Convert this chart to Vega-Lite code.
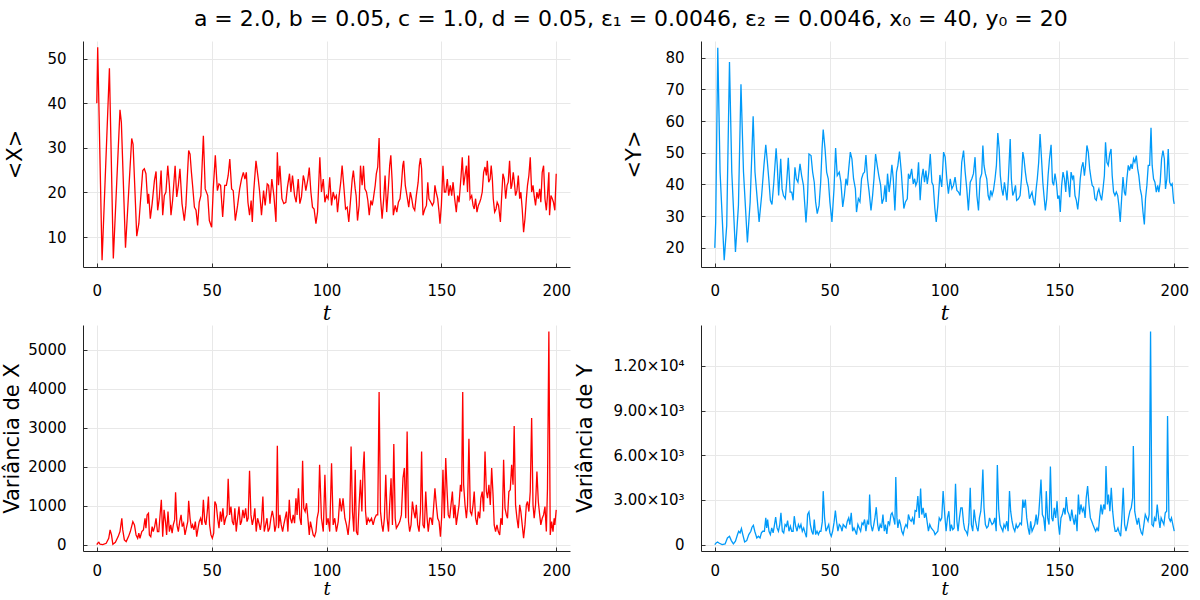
{
  "$schema": "https://vega.github.io/schema/vega-lite/v6.json",
  "padding": {"left": 0, "top": 8, "right": 0, "bottom": 0},
  "background": "white",
  "title": {"text": "a = 2.0, b = 0.05, c = 1.0, d = 0.05, ε₁ = 0.0046, ε₂ = 0.0046, x₀ = 40, y₀ = 20", "font": "DejaVu Sans", "fontSize": 22, "fontWeight": "normal", "color": "#000", "anchor": "middle", "offset": 10, "dx": 36},
  "datasets": {
    "X": [
      {"t":0,"v":40},{"t":0.4,"v":52.5},{"t":2.3,"v":4.8},{"t":5.5,"v":47.8},{"t":7.2,"v":5.2},{"t":10.1,"v":38.5},{"t":10.7,"v":35.7},{"t":12.5,"v":7.6},{"t":15.2,"v":32.1},{"t":15.8,"v":30.8},{"t":17.4,"v":10.2},{"t":18.3,"v":13.0},{"t":20,"v":24.9},{"t":20.7,"v":25.3},{"t":21.4,"v":24.2},{"t":22.2,"v":17.5},{"t":22.6,"v":19.7},{"t":23.3,"v":14.1},{"t":24.1,"v":17.5},{"t":25.1,"v":22.7},{"t":25.8,"v":24.7},{"t":26.5,"v":16.0},{"t":27.2,"v":18.6},{"t":28,"v":24.9},{"t":28.7,"v":14.9},{"t":29.4,"v":19.3},{"t":30.1,"v":20.1},{"t":30.9,"v":26.0},{"t":31.6,"v":21.6},{"t":32.3,"v":14.9},{"t":33,"v":18.2},{"t":34.1,"v":26.0},{"t":34.8,"v":19},{"t":35.5,"v":21.6},{"t":36.2,"v":25.3},{"t":37.1,"v":17.5},{"t":38.1,"v":13.7},{"t":38.8,"v":17.1},{"t":40,"v":29.4},{"t":40.6,"v":28.6},{"t":41.2,"v":24.5},{"t":41.7,"v":21.6},{"t":42.5,"v":16.7},{"t":43.2,"v":16.0},{"t":43.9,"v":12.6},{"t":44.6,"v":17.8},{"t":45.3,"v":19.3},{"t":46.4,"v":32.7},{"t":47.2,"v":20.8},{"t":48.3,"v":19.3},{"t":49,"v":13.7},{"t":50,"v":12.2},{"t":50.7,"v":20.8},{"t":51.6,"v":28.3},{"t":52.5,"v":20.4},{"t":53.2,"v":21.9},{"t":53.9,"v":21.6},{"t":54.8,"v":14.5},{"t":55.7,"v":21.6},{"t":56.4,"v":21.6},{"t":57.2,"v":23.8},{"t":57.9,"v":27.5},{"t":58.7,"v":20.8},{"t":59.4,"v":20.4},{"t":60.3,"v":13.7},{"t":61.3,"v":17.1},{"t":62.2,"v":20.8},{"t":63,"v":23},{"t":63.8,"v":24.5},{"t":64.5,"v":23},{"t":65.1,"v":24.5},{"t":65.8,"v":17.8},{"t":66.5,"v":14.9},{"t":67.2,"v":18.2},{"t":67.7,"v":13.4},{"t":68.3,"v":20.1},{"t":69.3,"v":27.1},{"t":70.3,"v":23},{"t":70.9,"v":20.1},{"t":71.7,"v":14.9},{"t":72.6,"v":20.4},{"t":73.3,"v":17.1},{"t":74.2,"v":21.9},{"t":74.8,"v":21.6},{"t":75.4,"v":17.5},{"t":76.2,"v":23},{"t":77.1,"v":19.3},{"t":78,"v":13.4},{"t":78.6,"v":29},{"t":79.1,"v":21.6},{"t":79.7,"v":26},{"t":80.6,"v":18.6},{"t":81.4,"v":17.5},{"t":82.3,"v":17.8},{"t":83,"v":21.2},{"t":83.9,"v":24.2},{"t":84.5,"v":20.1},{"t":85.2,"v":23.8},{"t":86.1,"v":19.3},{"t":86.8,"v":17.8},{"t":87.7,"v":23},{"t":88.4,"v":17.5},{"t":89.1,"v":19},{"t":89.9,"v":23.8},{"t":90.4,"v":22.7},{"t":91,"v":20.4},{"t":91.9,"v":23},{"t":92.5,"v":25.6},{"t":93.2,"v":20.1},{"t":93.9,"v":16.7},{"t":94.6,"v":16.3},{"t":95.4,"v":13},{"t":96.1,"v":15.6},
      {"t":97.1,"v":27.9},{"t":97.8,"v":20.1},{"t":98.6,"v":23.0},{"t":99.3,"v":17.8},{"t":100,"v":19.3},{"t":100.7,"v":18.6},{"t":101.4,"v":23.4},{"t":102.2,"v":17.1},{"t":102.9,"v":20.1},{"t":103.6,"v":18.6},{"t":104.3,"v":19.3},{"t":104.8,"v":15.6},{"t":105.5,"v":19.3},{"t":106.2,"v":22.3},{"t":106.8,"v":26.0},{"t":107.5,"v":21.6},{"t":108.3,"v":16.3},{"t":109.0,"v":16.7},{"t":109.7,"v":13.4},{"t":110.4,"v":17.8},{"t":111.2,"v":23.0},{"t":111.7,"v":24.9},{"t":112.5,"v":20.8},{"t":112.9,"v":19.3},{"t":113.5,"v":13.7},{"t":114.2,"v":17.1},{"t":114.8,"v":26.0},{"t":115.5,"v":21.6},{"t":116.1,"v":26.0},{"t":116.7,"v":20.8},{"t":117.4,"v":20.1},{"t":118.0,"v":18.2},{"t":118.6,"v":14.9},{"t":119.3,"v":18.2},{"t":119.9,"v":17.1},{"t":120.4,"v":18.6},{"t":121.2,"v":21.6},{"t":121.7,"v":24.2},{"t":122.3,"v":25.7},{"t":122.9,"v":32.2},{"t":123.5,"v":19.0},{"t":124.2,"v":14.1},{"t":124.9,"v":18.6},{"t":125.5,"v":23.8},{"t":126.2,"v":15.6},{"t":127.0,"v":21.6},{"t":127.5,"v":26.0},{"t":128.0,"v":28.3},{"t":128.6,"v":22.3},{"t":129.1,"v":14.9},{"t":129.9,"v":17.1},{"t":130.6,"v":15.6},{"t":131.3,"v":17.8},{"t":132.0,"v":18.6},{"t":132.6,"v":21.6},{"t":133.2,"v":26.0},{"t":133.6,"v":27.1},{"t":134.3,"v":21.6},{"t":135.1,"v":19.0},{"t":135.8,"v":16.7},{"t":136.5,"v":20.1},{"t":137.1,"v":18.6},{"t":137.7,"v":16.7},{"t":138.4,"v":16.0},{"t":139.1,"v":19.3},{"t":139.9,"v":22.3},{"t":140.4,"v":26.0},{"t":140.9,"v":27.7},{"t":141.4,"v":25.3},{"t":142.0,"v":14.9},{"t":142.8,"v":16.3},{"t":143.5,"v":17.1},{"t":144.1,"v":22.3},{"t":144.6,"v":18.6},{"t":145.4,"v":17.8},{"t":146.1,"v":17.1},{"t":146.7,"v":17.8},{"t":147.2,"v":21.6},{"t":147.7,"v":20.1},{"t":148.4,"v":18.6},{"t":149.0,"v":15.6},{"t":149.4,"v":13.0},{"t":150.0,"v":17.1},{"t":150.7,"v":26.0},{"t":151.3,"v":20.1},{"t":151.9,"v":20.1},{"t":152.6,"v":23.0},{"t":153.2,"v":19.3},{"t":153.9,"v":21.6},{"t":154.5,"v":19.3},{"t":155.1,"v":22.3},{"t":155.8,"v":18.6},{"t":156.5,"v":15.6},{"t":157.1,"v":19.3},{"t":157.7,"v":17.8},{"t":158.6,"v":23.8},{"t":159.1,"v":27.9},{"t":159.7,"v":21.6},{"t":160.3,"v":23.8},{"t":160.9,"v":26.0},{"t":161.4,"v":20.1},{"t":161.9,"v":28.3},{"t":162.5,"v":18.6},{"t":163.2,"v":19.3},{"t":163.8,"v":17.1},{"t":164.3,"v":16.3},{"t":164.9,"v":18.6},{"t":165.5,"v":15.6},{"t":166.1,"v":17.1},{"t":166.7,"v":17.8},{"t":167.2,"v":18.6},{"t":167.8,"v":20.1},{"t":168.4,"v":24.5},{"t":169.0,"v":25.7},{"t":169.6,"v":23.8},{"t":170.0,"v":27.1},{"t":170.6,"v":22.3},{"t":171.2,"v":23.0},{"t":171.7,"v":26.0},{"t":172.2,"v":23.0},{"t":172.6,"v":18.6},{"t":173.2,"v":15.6},{"t":173.8,"v":16.3},{"t":174.3,"v":17.8},{"t":174.9,"v":17.1},{"t":175.7,"v":13.4},{"t":176.2,"v":18.6},{"t":176.8,"v":24.2},{"t":177.4,"v":23.0},{"t":178.0,"v":18.6},{"t":178.6,"v":21.6},{"t":179.1,"v":22.3},{"t":179.7,"v":27.1},{"t":180.3,"v":20.8},{"t":180.7,"v":21.6},{"t":181.3,"v":24.5},{"t":181.9,"v":21.6},{"t":182.3,"v":19.3},{"t":182.9,"v":20.4},{"t":183.5,"v":23.8},{"t":184.1,"v":18.6},{"t":184.6,"v":20.1},{"t":185.2,"v":16.3},{"t":185.8,"v":11.1},{"t":186.4,"v":14.1},{"t":187.0,"v":18.6},{"t":187.5,"v":21.6},{"t":188.1,"v":23.8},{"t":188.7,"v":27.9},{"t":189.3,"v":20.1},{"t":189.9,"v":21.6},{"t":190.4,"v":19.3},{"t":191.0,"v":17.1},{"t":191.6,"v":20.1},{"t":192.2,"v":18.6},{"t":192.8,"v":20.8},{"t":193.3,"v":17.8},{"t":193.9,"v":24.5},{"t":194.5,"v":26.0},{"t":195.1,"v":18.6},{"t":195.7,"v":16.0},{"t":196.2,"v":19.3},{"t":196.8,"v":24.5},{"t":197.1,"v":14.9},{"t":197.7,"v":19.3},{"t":198.3,"v":18.6},{"t":198.8,"v":17.8},{"t":199.4,"v":16.0},{"t":200.0,"v":24.2}
    ],
    "Y": [
      {"t":0,"v":20},{"t":0.4,"v":28.2},{"t":1.3,"v":83.1},{"t":2.3,"v":43.9},{"t":4.1,"v":16.1},{"t":5.2,"v":27.1},{"t":6.4,"v":78.6},{"t":7.4,"v":43.9},{"t":9,"v":18.7},{"t":10.3,"v":33.4},{"t":11.4,"v":71.6},{"t":12.5,"v":43.9},{"t":14.2,"v":21.7},{"t":15.4,"v":34.5},{"t":16.7,"v":61.5},{"t":17.5,"v":43.9},{"t":19.3,"v":28.2},{"t":20.4,"v":36.5},{"t":21.4,"v":46},{"t":22.2,"v":52.5},{"t":22.9,"v":47},{"t":23.5,"v":41.8},{"t":24.2,"v":35},{"t":24.9,"v":33.7},{"t":25.7,"v":40.7},{"t":26.7,"v":51.4},{"t":27.2,"v":46},{"t":27.8,"v":36.5},{"t":28.7,"v":48.1},{"t":29.3,"v":38.6},{"t":29.9,"v":36.5},{"t":30.7,"v":35.5},{"t":31.3,"v":40.7},{"t":32,"v":48.4},{"t":32.8,"v":37.6},{"t":33.5,"v":37.6},{"t":34.1,"v":35},{"t":34.9,"v":45.4},{"t":35.5,"v":41.8},{"t":36.2,"v":40.7},{"t":37.1,"v":46.5},{"t":37.8,"v":42.8},{"t":38.6,"v":39.7},{"t":39.1,"v":34.5},{"t":39.7,"v":28},{"t":40.3,"v":34.5},{"t":41,"v":49.6},{"t":41.9,"v":49.1},{"t":42.6,"v":43.9},{"t":43.3,"v":40.7},{"t":43.9,"v":34.5},{"t":44.6,"v":30.8},{"t":45.4,"v":33.4},{"t":46.1,"v":40.7},{"t":46.7,"v":51.2},{"t":47.2,"v":57.3},{"t":48,"v":51.2},{"t":48.7,"v":43.9},{"t":49.4,"v":41.8},{"t":50.1,"v":34.5},{"t":51,"v":28.2},{"t":51.9,"v":38.6},{"t":52.6,"v":51.5},{"t":53.3,"v":42.8},{"t":54.2,"v":43.9},{"t":54.9,"v":40.7},{"t":55.7,"v":32.9},{"t":56.4,"v":36.5},{"t":57.1,"v":41.8},{"t":57.7,"v":39.7},{"t":58.3,"v":44.9},{"t":59,"v":50.2},{"t":59.7,"v":48.1},{"t":60.4,"v":41.8},{"t":61.2,"v":38.6},{"t":61.7,"v":31.3},{"t":62.5,"v":35.5},{"t":63.2,"v":34.5},{"t":63.9,"v":41.8},{"t":64.6,"v":43.4},{"t":65.2,"v":43.9},{"t":65.8,"v":49.3},{"t":66.5,"v":41.8},{"t":67.2,"v":37.6},{"t":68,"v":31.8},{"t":68.7,"v":36.5},{"t":69.3,"v":41.8},{"t":70,"v":49.6},{"t":70.7,"v":46},{"t":71.4,"v":42.8},{"t":72.2,"v":39.7},{"t":72.8,"v":33.9},{"t":73.5,"v":35.5},{"t":74.1,"v":39.7},{"t":74.6,"v":34.5},{"t":75.2,"v":43.4},{"t":75.9,"v":37.6},{"t":76.5,"v":41.3},{"t":77.1,"v":46.2},{"t":77.7,"v":41.8},{"t":78.4,"v":31.8},{"t":79.1,"v":43.9},{"t":79.7,"v":46},{"t":80.4,"v":50.4},{"t":81.2,"v":43.9},{"t":81.7,"v":38.6},{"t":82.3,"v":32.4},{"t":83,"v":34.5},{"t":83.8,"v":35.5},{"t":84.3,"v":43.4},{"t":84.9,"v":41.8},{"t":85.7,"v":44.9},{"t":86.4,"v":40.2},{"t":87,"v":41.8},{"t":87.5,"v":39.7},{"t":88.1,"v":40.9},{"t":88.7,"v":47},{"t":89.4,"v":35},{"t":90,"v":41.8},{"t":90.7,"v":44.9},{"t":91.3,"v":40.7},{"t":91.9,"v":44.4},{"t":92.5,"v":40.2},{"t":93.2,"v":43.9},{"t":93.8,"v":49.6},{"t":94.5,"v":40.7},{"t":95.1,"v":39.7},{"t":95.8,"v":32.4},{"t":96.4,"v":28.2},{"t":97.1,"v":33.4},{"t":98,"v":43},{"t":98.8,"v":39.2},
      {"t":99.6,"v":50.2},{"t":100.3,"v":48.6},{"t":101.0,"v":41.8},{"t":101.7,"v":37.1},{"t":102.5,"v":41.8},{"t":103.2,"v":38.6},{"t":103.9,"v":39.7},{"t":104.6,"v":42.3},{"t":105.4,"v":38.1},{"t":106.1,"v":37.6},{"t":106.8,"v":36.5},{"t":107.5,"v":47.0},{"t":108.3,"v":50.7},{"t":109.0,"v":43.9},{"t":109.7,"v":38.6},{"t":110.4,"v":31.8},{"t":111.2,"v":40.7},{"t":111.9,"v":41.8},{"t":112.6,"v":43.4},{"t":113.3,"v":48.6},{"t":114.1,"v":36.5},{"t":114.8,"v":31.8},{"t":115.5,"v":41.8},{"t":116.2,"v":43.4},{"t":116.7,"v":52.3},{"t":117.2,"v":46.0},{"t":117.8,"v":43.4},{"t":118.4,"v":41.8},{"t":119.0,"v":36.5},{"t":119.6,"v":35.0},{"t":120.1,"v":38.1},{"t":120.7,"v":36.5},{"t":121.3,"v":38.1},{"t":122.0,"v":41.8},{"t":122.6,"v":46.0},{"t":123.2,"v":56.2},{"t":123.8,"v":51.2},{"t":124.3,"v":42.8},{"t":124.9,"v":38.6},{"t":125.5,"v":36.5},{"t":126.1,"v":40.7},{"t":126.7,"v":37.6},{"t":127.2,"v":35.0},{"t":127.8,"v":41.8},{"t":128.6,"v":54.3},{"t":129.1,"v":41.8},{"t":129.7,"v":36.5},{"t":130.3,"v":37.6},{"t":130.9,"v":39.7},{"t":131.4,"v":35.0},{"t":132.2,"v":35.5},{"t":132.9,"v":36.5},{"t":133.5,"v":41.8},{"t":134.1,"v":50.2},{"t":134.6,"v":48.1},{"t":135.2,"v":43.9},{"t":135.8,"v":40.7},{"t":136.4,"v":39.2},{"t":137.0,"v":35.5},{"t":137.5,"v":36.5},{"t":138.1,"v":37.6},{"t":138.7,"v":35.0},{"t":139.3,"v":33.4},{"t":139.9,"v":38.6},{"t":140.4,"v":41.8},{"t":141.0,"v":47.0},{"t":141.6,"v":55.9},{"t":142.2,"v":48.6},{"t":142.8,"v":40.7},{"t":143.3,"v":36.5},{"t":143.9,"v":31.8},{"t":144.5,"v":35.5},{"t":145.1,"v":42.8},{"t":145.7,"v":48.1},{"t":146.4,"v":52.5},{"t":147.0,"v":40.7},{"t":147.5,"v":39.7},{"t":148.1,"v":43.4},{"t":148.7,"v":40.7},{"t":149.3,"v":35.5},{"t":149.9,"v":36.5},{"t":150.4,"v":31.3},{"t":151.0,"v":39.7},{"t":151.6,"v":43.9},{"t":152.2,"v":41.8},{"t":152.8,"v":37.6},{"t":153.3,"v":44.4},{"t":153.9,"v":40.7},{"t":154.5,"v":36.0},{"t":155.1,"v":43.9},{"t":155.7,"v":41.8},{"t":156.2,"v":42.8},{"t":156.8,"v":36.5},{"t":157.4,"v":35.0},{"t":158.0,"v":32.1},{"t":158.6,"v":36.5},{"t":159.1,"v":41.8},{"t":159.7,"v":45.4},{"t":160.3,"v":47.0},{"t":160.9,"v":42.8},{"t":161.4,"v":46.0},{"t":162.0,"v":52.3},{"t":162.6,"v":50.2},{"t":163.2,"v":44.9},{"t":163.8,"v":41.8},{"t":164.3,"v":39.7},{"t":164.9,"v":39.2},{"t":165.5,"v":35.5},{"t":166.1,"v":35.0},{"t":166.7,"v":37.6},{"t":167.2,"v":38.6},{"t":167.8,"v":36.5},{"t":168.4,"v":35.0},{"t":169.0,"v":38.6},{"t":169.6,"v":42.8},{"t":170.1,"v":53.3},{"t":170.7,"v":47.0},{"t":171.3,"v":46.0},{"t":171.9,"v":49.6},{"t":172.5,"v":51.2},{"t":173.0,"v":42.8},{"t":173.6,"v":37.6},{"t":174.2,"v":36.5},{"t":174.8,"v":37.6},{"t":175.4,"v":36.5},{"t":175.9,"v":33.4},{"t":176.5,"v":28.2},{"t":177.1,"v":35.5},{"t":177.7,"v":42.3},{"t":178.3,"v":37.6},{"t":178.8,"v":36.5},{"t":179.4,"v":41.8},{"t":180.0,"v":46.0},{"t":180.6,"v":44.4},{"t":181.2,"v":46.5},{"t":181.7,"v":44.9},{"t":182.3,"v":48.1},{"t":182.9,"v":47.0},{"t":183.5,"v":49.1},{"t":184.1,"v":44.9},{"t":184.6,"v":42.8},{"t":185.2,"v":38.6},{"t":185.8,"v":36.5},{"t":186.4,"v":31.3},{"t":187.0,"v":27.4},{"t":187.5,"v":35.5},{"t":188.1,"v":39.7},{"t":188.7,"v":46.0},{"t":189.3,"v":46.0},{"t":189.9,"v":57.9},{"t":190.4,"v":46.0},{"t":191.0,"v":41.8},{"t":191.6,"v":40.7},{"t":192.2,"v":37.6},{"t":192.8,"v":39.7},{"t":193.3,"v":37.6},{"t":193.9,"v":40.7},{"t":194.5,"v":48.1},{"t":195.1,"v":50.7},{"t":195.7,"v":48.1},{"t":196.2,"v":38.6},{"t":196.8,"v":41.8},{"t":197.4,"v":51.2},{"t":198.0,"v":40.7},{"t":198.6,"v":39.7},{"t":199.1,"v":40.2},{"t":199.7,"v":35.0},{"t":200.0,"v":33.9}
    ],
    "VX": [
      {"t":0,"v":0},{"t":0.4,"v":34},{"t":0.9,"v":60},{"t":1.4,"v":9},{"t":2.6,"v":0},{"t":4.1,"v":34},{"t":5.2,"v":163},{"t":5.8,"v":377},{"t":6.4,"v":248},{"t":7,"v":9},{"t":8.1,"v":60},{"t":9.3,"v":205},{"t":10.1,"v":334},{"t":10.9,"v":676},{"t":11.3,"v":377},{"t":12,"v":120},{"t":12.8,"v":77},{"t":13.8,"v":205},{"t":14.6,"v":334},{"t":15.7,"v":591},{"t":16.4,"v":505},{"t":17.1,"v":248},{"t":17.8,"v":163},{"t":18.3,"v":291},{"t":18.8,"v":163},{"t":19.6,"v":334},{"t":20.3,"v":377},{"t":21,"v":676},{"t":21.4,"v":420},{"t":21.9,"v":762},{"t":22.5,"v":805},{"t":22.9,"v":248},{"t":23.5,"v":205},{"t":24.1,"v":462},{"t":24.6,"v":334},{"t":25.2,"v":462},{"t":25.8,"v":676},{"t":26.4,"v":334},{"t":27,"v":334},{"t":27.5,"v":719},{"t":28.1,"v":1147},{"t":28.7,"v":205},{"t":29.3,"v":890},{"t":29.9,"v":591},{"t":30.4,"v":248},{"t":31,"v":848},{"t":31.6,"v":334},{"t":32.2,"v":505},{"t":32.8,"v":291},{"t":33.3,"v":505},{"t":33.9,"v":634},{"t":34.3,"v":1344},{"t":34.9,"v":505},{"t":35.5,"v":334},{"t":36.1,"v":591},{"t":36.7,"v":762},{"t":37.2,"v":462},{"t":37.8,"v":548},{"t":38.4,"v":248},{"t":39,"v":420},{"t":39.6,"v":591},{"t":40,"v":1122},{"t":40.6,"v":676},{"t":41.2,"v":420},{"t":41.7,"v":505},{"t":42.3,"v":377},{"t":42.9,"v":591},{"t":43.5,"v":205},{"t":44.1,"v":420},{"t":44.6,"v":591},{"t":45.2,"v":676},{"t":45.8,"v":505},{"t":46.4,"v":1147},{"t":47,"v":591},{"t":47.5,"v":505},{"t":48.1,"v":848},{"t":48.6,"v":1233},{"t":49.1,"v":505},{"t":49.7,"v":248},{"t":50.3,"v":163},{"t":50.9,"v":291},{"t":51.4,"v":1104},{"t":52,"v":1019},{"t":52.6,"v":676},{"t":53.2,"v":420},{"t":53.8,"v":848},{"t":54.3,"v":591},{"t":54.9,"v":933},{"t":55.5,"v":505},{"t":56.1,"v":676},{"t":56.7,"v":762},{"t":57.2,"v":1687},{"t":57.8,"v":762},{"t":58.4,"v":976},{"t":59,"v":591},{"t":59.6,"v":505},{"t":60.1,"v":933},{"t":60.7,"v":334},{"t":61.3,"v":676},{"t":61.9,"v":976},{"t":62.5,"v":505},{"t":63,"v":591},{"t":63.6,"v":890},{"t":64.2,"v":676},{"t":64.8,"v":933},{"t":65.4,"v":591},{"t":65.9,"v":676},{"t":66.5,"v":1892},{"t":67.1,"v":762},{"t":67.7,"v":505},{"t":68.3,"v":676},{"t":68.8,"v":933},{"t":69.4,"v":334},{"t":70,"v":676},{"t":70.6,"v":548},{"t":71.2,"v":377},{"t":71.7,"v":591},{"t":72.3,"v":1233},{"t":72.9,"v":334},{"t":73.5,"v":505},{"t":74.1,"v":676},{"t":74.6,"v":334},{"t":75.2,"v":420},{"t":75.8,"v":676},{"t":76.4,"v":865},{"t":77,"v":676},{"t":77.5,"v":334},{"t":78.1,"v":505},{"t":78.6,"v":2534},{"t":79.1,"v":420},{"t":79.7,"v":762},{"t":80.3,"v":505},{"t":80.9,"v":334},{"t":81.4,"v":505},{"t":82,"v":676},{"t":82.6,"v":848},{"t":83.2,"v":334},{"t":83.8,"v":1147},{"t":84.3,"v":676},{"t":84.9,"v":548},{"t":85.5,"v":762},{"t":86.1,"v":548},{"t":86.7,"v":1190},{"t":87.2,"v":762},{"t":87.8,"v":1447},{"t":88.4,"v":676},{"t":89,"v":505},{"t":89.6,"v":2149},{"t":90.1,"v":933},{"t":90.7,"v":848},{"t":91.3,"v":1062},{"t":91.9,"v":676},{"t":92.5,"v":248},{"t":93,"v":591},{"t":93.6,"v":420},{"t":94.2,"v":248},{"t":94.8,"v":205},{"t":95.4,"v":334},{"t":95.9,"v":676},{"t":96.5,"v":848},{"t":97.0,"v":2046},
      {"t":97.8,"v":676},{"t":98.6,"v":334},{"t":99.3,"v":1789},{"t":100.0,"v":505},{"t":100.7,"v":676},{"t":101.4,"v":334},{"t":102.2,"v":2089},{"t":102.9,"v":505},{"t":103.6,"v":676},{"t":104.3,"v":334},{"t":105.1,"v":591},{"t":105.8,"v":1190},{"t":106.5,"v":848},{"t":107.2,"v":1190},{"t":108.0,"v":676},{"t":108.7,"v":505},{"t":109.4,"v":248},{"t":110.1,"v":676},{"t":110.7,"v":2517},{"t":111.3,"v":848},{"t":111.9,"v":334},{"t":112.5,"v":1918},{"t":113.0,"v":334},{"t":113.6,"v":248},{"t":114.2,"v":1019},{"t":114.8,"v":1661},{"t":115.4,"v":848},{"t":115.9,"v":1875},{"t":116.4,"v":2389},{"t":117.0,"v":848},{"t":117.5,"v":505},{"t":118.1,"v":676},{"t":118.8,"v":591},{"t":119.6,"v":676},{"t":120.3,"v":505},{"t":121.0,"v":676},{"t":121.7,"v":762},{"t":122.3,"v":762},{"t":122.9,"v":3913},{"t":123.5,"v":848},{"t":124.1,"v":505},{"t":124.6,"v":334},{"t":125.2,"v":676},{"t":125.8,"v":1789},{"t":126.4,"v":676},{"t":127.0,"v":334},{"t":127.5,"v":1019},{"t":128.1,"v":1704},{"t":128.7,"v":505},{"t":129.3,"v":2577},{"t":129.9,"v":676},{"t":130.4,"v":420},{"t":131.2,"v":505},{"t":131.9,"v":591},{"t":132.6,"v":762},{"t":133.3,"v":1704},{"t":133.9,"v":1961},{"t":134.5,"v":676},{"t":135.1,"v":2902},{"t":135.7,"v":591},{"t":136.2,"v":334},{"t":136.8,"v":505},{"t":137.4,"v":1104},{"t":138.0,"v":848},{"t":138.6,"v":676},{"t":139.1,"v":1019},{"t":139.7,"v":505},{"t":140.3,"v":334},{"t":140.9,"v":848},{"t":141.4,"v":2389},{"t":142.0,"v":505},{"t":142.6,"v":420},{"t":143.2,"v":1361},{"t":143.8,"v":676},{"t":144.3,"v":334},{"t":144.9,"v":676},{"t":145.5,"v":676},{"t":146.1,"v":505},{"t":146.7,"v":1019},{"t":147.2,"v":1447},{"t":147.8,"v":1019},{"t":148.4,"v":676},{"t":149.0,"v":591},{"t":149.6,"v":205},{"t":150.1,"v":676},{"t":150.7,"v":1918},{"t":151.3,"v":676},{"t":151.9,"v":2218},{"t":152.5,"v":1361},{"t":153.0,"v":762},{"t":153.6,"v":676},{"t":154.2,"v":1019},{"t":154.8,"v":1361},{"t":155.4,"v":676},{"t":155.9,"v":1019},{"t":156.5,"v":505},{"t":157.1,"v":762},{"t":157.7,"v":1019},{"t":158.3,"v":1533},{"t":158.8,"v":1361},{"t":159.3,"v":3913},{"t":159.7,"v":1533},{"t":160.3,"v":1019},{"t":160.9,"v":676},{"t":161.4,"v":1019},{"t":162.0,"v":2714},{"t":162.6,"v":848},{"t":163.2,"v":762},{"t":163.8,"v":1019},{"t":164.3,"v":1361},{"t":164.9,"v":676},{"t":165.5,"v":505},{"t":166.1,"v":848},{"t":166.7,"v":676},{"t":167.2,"v":1190},{"t":167.8,"v":1361},{"t":168.4,"v":848},{"t":169.0,"v":2389},{"t":169.6,"v":1361},{"t":170.1,"v":1190},{"t":170.7,"v":1533},{"t":171.3,"v":1019},{"t":171.9,"v":1961},{"t":172.5,"v":1275},{"t":173.0,"v":505},{"t":173.6,"v":334},{"t":174.2,"v":505},{"t":174.8,"v":334},{"t":175.4,"v":248},{"t":175.9,"v":676},{"t":176.5,"v":505},{"t":177.1,"v":2175},{"t":177.7,"v":933},{"t":178.3,"v":762},{"t":178.8,"v":676},{"t":179.4,"v":1361},{"t":180.0,"v":1404},{"t":180.6,"v":2046},{"t":181.2,"v":1533},{"t":181.7,"v":3040},{"t":182.3,"v":1019},{"t":182.9,"v":676},{"t":183.5,"v":420},{"t":184.1,"v":1019},{"t":184.6,"v":848},{"t":185.2,"v":505},{"t":185.8,"v":163},{"t":186.4,"v":505},{"t":187.0,"v":1019},{"t":187.5,"v":1104},{"t":188.1,"v":848},{"t":188.7,"v":1361},{"t":189.3,"v":3245},{"t":189.9,"v":1019},{"t":190.4,"v":676},{"t":191.0,"v":1019},{"t":191.6,"v":1875},{"t":192.2,"v":1104},{"t":192.8,"v":762},{"t":193.3,"v":505},{"t":193.9,"v":676},{"t":194.5,"v":762},{"t":195.1,"v":976},{"t":195.7,"v":334},{"t":196.2,"v":1447},{"t":196.8,"v":5468},{"t":197.4,"v":248},{"t":198.0,"v":591},{"t":198.6,"v":334},{"t":199.1,"v":676},{"t":199.4,"v":505},{"t":200.0,"v":890}
    ],
    "VY": [
      {"t":0,"v":0},{"t":0.6,"v":112},{"t":1.2,"v":179},{"t":2.0,"v":90},{"t":3.2,"v":0},{"t":4.5,"v":45},{"t":5.5,"v":449},{"t":6.4,"v":561},{"t":7.2,"v":269},{"t":8.1,"v":45},{"t":9.0,"v":224},{"t":9.9,"v":673},{"t":10.4,"v":897},{"t":11.0,"v":785},{"t":11.6,"v":1077},{"t":12.2,"v":673},{"t":13.0,"v":179},{"t":13.9,"v":269},{"t":14.8,"v":673},{"t":15.7,"v":897},{"t":16.2,"v":1166},{"t":16.8,"v":1301},{"t":17.4,"v":897},{"t":18.3,"v":449},{"t":19.0,"v":561},{"t":19.7,"v":449},{"t":20.3,"v":785},{"t":20.9,"v":897},{"t":21.6,"v":897},{"t":22.2,"v":1794},{"t":22.6,"v":1121},{"t":23.0,"v":1682},{"t":23.6,"v":897},{"t":24.2,"v":673},{"t":24.8,"v":1121},{"t":25.4,"v":785},{"t":25.9,"v":1234},{"t":26.5,"v":1839},{"t":27.1,"v":1121},{"t":27.7,"v":897},{"t":28.3,"v":1346},{"t":28.8,"v":2131},{"t":29.4,"v":897},{"t":30.0,"v":785},{"t":30.6,"v":1346},{"t":31.2,"v":1234},{"t":31.7,"v":1615},{"t":32.3,"v":897},{"t":32.9,"v":1234},{"t":33.5,"v":897},{"t":34.1,"v":897},{"t":34.6,"v":1907},{"t":35.2,"v":1234},{"t":35.8,"v":897},{"t":36.4,"v":1346},{"t":37.0,"v":1121},{"t":37.5,"v":1346},{"t":38.1,"v":897},{"t":38.7,"v":1121},{"t":39.3,"v":785},{"t":39.9,"v":493},{"t":40.4,"v":2019},{"t":41.0,"v":2198},{"t":41.6,"v":1346},{"t":42.2,"v":897},{"t":42.8,"v":673},{"t":43.3,"v":1682},{"t":43.9,"v":673},{"t":44.5,"v":897},{"t":45.1,"v":673},{"t":45.7,"v":897},{"t":46.2,"v":897},{"t":46.8,"v":1525},{"t":47.2,"v":3589},{"t":47.8,"v":1794},{"t":48.4,"v":897},{"t":49.0,"v":1121},{"t":49.6,"v":1346},{"t":50.1,"v":785},{"t":50.7,"v":561},{"t":51.3,"v":897},{"t":51.9,"v":1458},{"t":52.5,"v":2288},{"t":53.0,"v":1570},{"t":53.6,"v":897},{"t":54.2,"v":1346},{"t":54.8,"v":1234},{"t":55.4,"v":897},{"t":55.9,"v":1346},{"t":56.5,"v":1234},{"t":57.1,"v":1121},{"t":57.7,"v":1570},{"t":58.3,"v":1794},{"t":58.8,"v":1346},{"t":59.4,"v":2131},{"t":60.0,"v":897},{"t":60.6,"v":1121},{"t":61.2,"v":897},{"t":61.7,"v":673},{"t":62.3,"v":1346},{"t":62.9,"v":1121},{"t":63.5,"v":897},{"t":64.1,"v":1458},{"t":64.6,"v":1346},{"t":65.2,"v":1682},{"t":65.8,"v":897},{"t":66.4,"v":1570},{"t":67.0,"v":1346},{"t":67.4,"v":3365},{"t":68.0,"v":1346},{"t":68.6,"v":897},{"t":69.1,"v":1234},{"t":69.7,"v":1794},{"t":70.3,"v":2512},{"t":70.9,"v":1346},{"t":71.4,"v":897},{"t":72.0,"v":1346},{"t":72.6,"v":1121},{"t":73.2,"v":2019},{"t":73.8,"v":897},{"t":74.3,"v":1346},{"t":74.9,"v":718},{"t":75.5,"v":1570},{"t":76.1,"v":1346},{"t":76.7,"v":2019},{"t":77.2,"v":2131},{"t":77.8,"v":1794},{"t":78.4,"v":1346},{"t":78.8,"v":4531},{"t":79.3,"v":1794},{"t":79.7,"v":1121},{"t":80.3,"v":1682},{"t":80.9,"v":1346},{"t":81.4,"v":897},{"t":82.0,"v":673},{"t":82.6,"v":1121},{"t":83.2,"v":1346},{"t":83.8,"v":1166},{"t":84.3,"v":2019},{"t":84.9,"v":1682},{"t":85.5,"v":1570},{"t":86.1,"v":1794},{"t":86.7,"v":1346},{"t":87.2,"v":2288},{"t":87.8,"v":2243},{"t":88.4,"v":3252},{"t":89.0,"v":1794},{"t":89.6,"v":3768},{"t":90.1,"v":2019},{"t":90.7,"v":2467},{"t":91.3,"v":1794},{"t":91.9,"v":2131},{"t":92.5,"v":1458},{"t":93.0,"v":897},{"t":93.6,"v":1346},{"t":94.2,"v":1121},{"t":94.8,"v":1009},{"t":95.4,"v":897},{"t":95.9,"v":673},{"t":96.5,"v":785},{"t":97.1,"v":897},{"t":97.7,"v":1794},{"t":98.3,"v":1615},{"t":98.8,"v":1794},{"t":99.4,"v":3589},
      {"t":100.1,"v":2019},{"t":100.7,"v":897},{"t":101.3,"v":1794},{"t":101.9,"v":2243},{"t":102.5,"v":897},{"t":103.0,"v":1346},{"t":103.6,"v":1009},{"t":104.2,"v":1121},{"t":104.8,"v":4082},{"t":105.4,"v":1570},{"t":105.9,"v":897},{"t":106.5,"v":1794},{"t":107.1,"v":2467},{"t":107.7,"v":2467},{"t":108.3,"v":1458},{"t":108.8,"v":1009},{"t":109.4,"v":897},{"t":110.0,"v":673},{"t":110.6,"v":1458},{"t":111.2,"v":3813},{"t":111.7,"v":1346},{"t":112.3,"v":897},{"t":112.9,"v":2355},{"t":113.5,"v":1570},{"t":114.1,"v":1121},{"t":114.6,"v":897},{"t":115.2,"v":1794},{"t":115.8,"v":2243},{"t":116.2,"v":3140},{"t":116.7,"v":5047},{"t":117.2,"v":2467},{"t":117.8,"v":1346},{"t":118.4,"v":1121},{"t":119.0,"v":1234},{"t":119.6,"v":1794},{"t":120.1,"v":1570},{"t":120.7,"v":1346},{"t":121.3,"v":1458},{"t":121.9,"v":1794},{"t":122.5,"v":897},{"t":123.0,"v":5338},{"t":123.6,"v":2355},{"t":124.2,"v":1346},{"t":124.8,"v":1121},{"t":125.4,"v":897},{"t":125.9,"v":1346},{"t":126.5,"v":1121},{"t":127.1,"v":1570},{"t":127.7,"v":897},{"t":128.3,"v":3589},{"t":128.8,"v":2243},{"t":129.4,"v":1570},{"t":130.0,"v":1121},{"t":130.6,"v":897},{"t":131.2,"v":1346},{"t":131.7,"v":1121},{"t":132.3,"v":1234},{"t":132.9,"v":1458},{"t":133.5,"v":1346},{"t":134.1,"v":3028},{"t":134.6,"v":2467},{"t":135.2,"v":3028},{"t":135.8,"v":1794},{"t":136.4,"v":1121},{"t":137.0,"v":673},{"t":137.5,"v":1570},{"t":138.1,"v":897},{"t":138.7,"v":1121},{"t":139.3,"v":1346},{"t":139.9,"v":2019},{"t":140.4,"v":1346},{"t":141.0,"v":2019},{"t":141.6,"v":3365},{"t":142.0,"v":4374},{"t":142.6,"v":2019},{"t":143.2,"v":1794},{"t":143.8,"v":897},{"t":144.3,"v":3589},{"t":144.9,"v":1794},{"t":145.5,"v":1346},{"t":146.1,"v":5249},{"t":146.7,"v":1794},{"t":147.2,"v":1570},{"t":147.8,"v":2467},{"t":148.4,"v":1794},{"t":149.0,"v":2916},{"t":149.6,"v":1346},{"t":150.1,"v":673},{"t":150.7,"v":1794},{"t":151.3,"v":2019},{"t":151.9,"v":2467},{"t":152.5,"v":2019},{"t":153.0,"v":3185},{"t":153.6,"v":2243},{"t":154.2,"v":2019},{"t":154.8,"v":1570},{"t":155.4,"v":2355},{"t":155.9,"v":1794},{"t":156.5,"v":1346},{"t":157.1,"v":2019},{"t":157.7,"v":897},{"t":158.3,"v":3365},{"t":158.8,"v":2019},{"t":159.4,"v":2692},{"t":160.0,"v":2243},{"t":160.6,"v":2467},{"t":161.2,"v":1794},{"t":161.7,"v":3140},{"t":162.3,"v":3925},{"t":162.9,"v":2692},{"t":163.5,"v":1794},{"t":164.1,"v":1570},{"t":164.6,"v":1346},{"t":165.2,"v":1121},{"t":165.8,"v":897},{"t":166.4,"v":1121},{"t":167.0,"v":897},{"t":167.5,"v":1794},{"t":168.1,"v":2692},{"t":168.7,"v":2019},{"t":169.3,"v":2692},{"t":169.9,"v":2355},{"t":170.3,"v":5271},{"t":170.9,"v":2692},{"t":171.4,"v":3365},{"t":172.0,"v":2243},{"t":172.6,"v":3813},{"t":173.2,"v":2243},{"t":173.8,"v":1346},{"t":174.3,"v":897},{"t":174.9,"v":897},{"t":175.5,"v":1121},{"t":176.1,"v":785},{"t":176.7,"v":561},{"t":177.2,"v":1794},{"t":177.8,"v":3813},{"t":178.4,"v":1346},{"t":179.0,"v":897},{"t":179.6,"v":1346},{"t":180.1,"v":1794},{"t":180.7,"v":2243},{"t":181.3,"v":2467},{"t":181.9,"v":3140},{"t":182.2,"v":6617},{"t":182.8,"v":2243},{"t":183.3,"v":1794},{"t":183.9,"v":1346},{"t":184.5,"v":1794},{"t":185.1,"v":1121},{"t":185.7,"v":785},{"t":186.2,"v":673},{"t":186.8,"v":1346},{"t":187.4,"v":2019},{"t":188.0,"v":1794},{"t":188.6,"v":1570},{"t":189.1,"v":2019},{"t":189.7,"v":14315},{"t":190.3,"v":1346},{"t":190.9,"v":1234},{"t":191.4,"v":1794},{"t":192.0,"v":1570},{"t":192.6,"v":2692},{"t":193.2,"v":1794},{"t":193.8,"v":1121},{"t":194.3,"v":1794},{"t":194.9,"v":1570},{"t":195.5,"v":1346},{"t":196.1,"v":2131},{"t":196.7,"v":2243},{"t":197.1,"v":8636},{"t":197.7,"v":1794},{"t":198.3,"v":1570},{"t":198.8,"v":1794},{"t":199.4,"v":1346},{"t":200.0,"v":897}
    ]
  },
  "columns": 2,
  "spacing": {"row": 58, "column": 131},
  "bounds": "flush",
  "concat": [
    {
      "width": 487, "height": 226,
      "data": {"name": "X"},
      "mark": {"type": "line", "color": "#ff0000", "strokeWidth": 1.3, "clip": true},
      "encoding": {
        "x": {"field": "t", "type": "quantitative", "scale": {"domain": [-6, 206], "nice": false, "zero": false}, "axis": {"values": [0, 50, 100, 150, 200], "title": "t"}},
        "y": {"field": "v", "type": "quantitative", "scale": {"domain": [3.3, 53.93], "nice": false, "zero": false}, "axis": {"values": [10, 20, 30, 40, 50], "title": "<X>", "titleX": -68}}
      }
    },
    {
      "width": 487, "height": 226,
      "data": {"name": "Y"},
      "mark": {"type": "line", "color": "#009af9", "strokeWidth": 1.3, "clip": true},
      "encoding": {
        "x": {"field": "t", "type": "quantitative", "scale": {"domain": [-6, 206], "nice": false, "zero": false}, "axis": {"values": [0, 50, 100, 150, 200], "title": "t"}},
        "y": {"field": "v", "type": "quantitative", "scale": {"domain": [13.97, 85.23], "nice": false, "zero": false}, "axis": {"values": [20, 30, 40, 50, 60, 70, 80], "title": "<Y>", "titleX": -67}}
      }
    },
    {
      "width": 487, "height": 226,
      "data": {"name": "VX"},
      "mark": {"type": "line", "color": "#ff0000", "strokeWidth": 1.3, "clip": true},
      "encoding": {
        "x": {"field": "t", "type": "quantitative", "scale": {"domain": [-6, 206], "nice": false, "zero": false}, "axis": {"values": [0, 50, 100, 150, 200], "title": "t", "titlePadding": 2, "labelPadding": 16, "titleFontSize": 18}},
        "y": {"field": "v", "type": "quantitative", "scale": {"domain": [-164, 5632], "nice": false, "zero": false}, "axis": {"values": [0, 1000, 2000, 3000, 4000, 5000], "format": "d", "title": "Variância de X", "titleX": -71}}
      }
    },
    {
      "width": 487, "height": 226,
      "data": {"name": "VY"},
      "mark": {"type": "line", "color": "#009af9", "strokeWidth": 1.3, "clip": true},
      "encoding": {
        "x": {"field": "t", "type": "quantitative", "scale": {"domain": [-6, 206], "nice": false, "zero": false}, "axis": {"values": [0, 50, 100, 150, 200], "title": "t", "titlePadding": 2, "labelPadding": 16, "titleFontSize": 18}},
        "y": {"field": "v", "type": "quantitative", "scale": {"domain": [-430, 14745], "nice": false, "zero": false}, "axis": {"values": [0, 3000, 6000, 9000, 12000], "title": "Variância de Y", "titleX": -116, "labelExpr": "datum.value == 0 ? '0' : (datum.value >= 10000 ? format(datum.value/10000, '.2f') + '×10⁴' : format(datum.value/1000, '.2f') + '×10³')"}}
      }
    }
  ],
  "config": {
    "view": {"stroke": null},
    "axis": {
      "domainColor": "#222", "domainWidth": 1, "tickColor": "#333", "tickSize": -4, "tickWidth": 1,
      "gridColor": "#e8e8e8", "gridWidth": 1,
      "labelFont": "DejaVu Sans", "labelFontSize": 15, "labelColor": "#000",
      "titleFont": "DejaVu Sans", "titleFontSize": 21, "titleFontWeight": "normal", "titleColor": "#000"
    },
    "axisX": {"labelPadding": 20, "titleFont": "DejaVu Serif", "titleFontStyle": "italic", "titlePadding": 4},
    "axisY": {"labelPadding": 21, "titleBaseline": "middle", "titleAngle": -90}
  }
}
